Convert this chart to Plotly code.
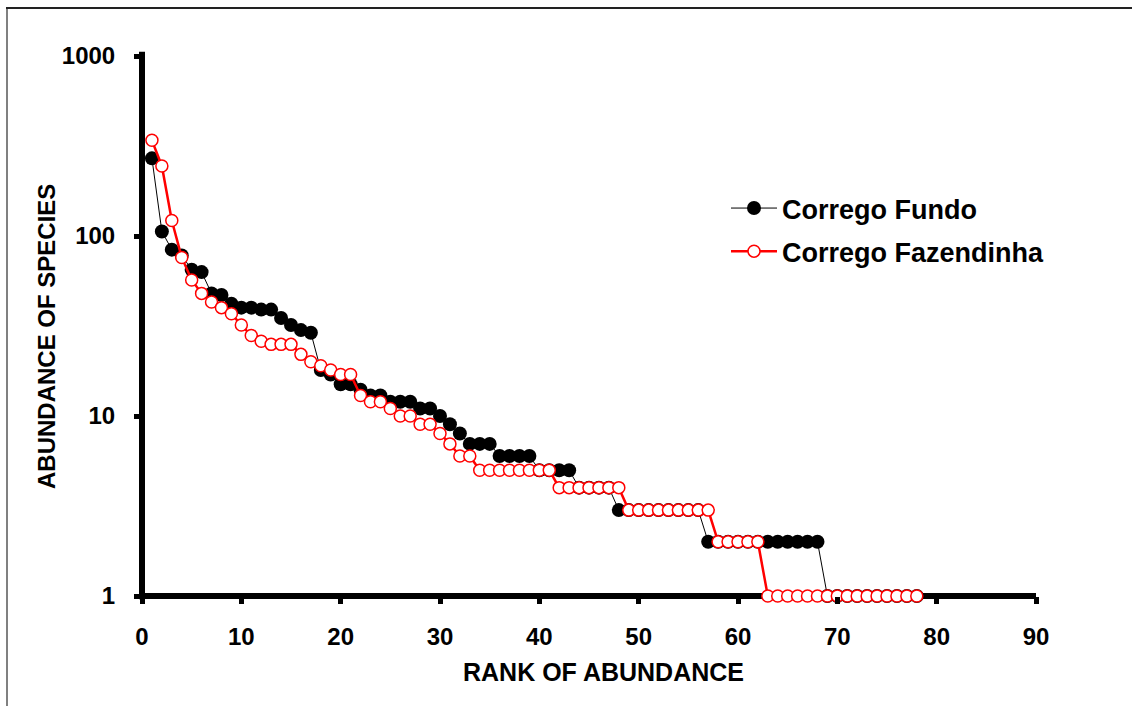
import plotly.graph_objects as go

rank = list(range(1, 79))

fundo = [270, 106, 84, 78, 65, 63, 48, 47, 42, 40,
         40, 39, 39, 35, 32, 30, 29, 18, 17, 15,
         15, 14, 13, 13, 12, 12, 12, 11, 11, 10,
         9, 8, 7, 7, 7, 6, 6, 6, 6, 5,
         5, 5, 5, 4, 4, 4, 4, 3, 3, 3,
         3, 3, 3, 3, 3, 3, 2, 2, 2, 2,
         2, 2, 2, 2, 2, 2, 2, 2, 1, 1,
         1, 1, 1, 1, 1, 1, 1, 1]

fazendinha = [340, 245, 122, 76, 57, 48, 43, 40, 37, 32,
              28, 26, 25, 25, 25, 22, 20, 19, 18, 17,
              17, 13, 12, 12, 11, 10, 10, 9, 9, 8,
              7, 6, 6, 5, 5, 5, 5, 5, 5, 5,
              5, 4, 4, 4, 4, 4, 4, 4, 3, 3,
              3, 3, 3, 3, 3, 3, 3, 2, 2, 2,
              2, 2, 1, 1, 1, 1, 1, 1, 1, 1,
              1, 1, 1, 1, 1, 1, 1, 1]

x_ticks = [0, 10, 20, 30, 40, 50, 60, 70, 80, 90]
y_ticks = [1, 10, 100, 1000]
y_ticktext = ["1", "10", "100", "1000"]

FONT = "Liberation Sans, Arial, sans-serif"

fig = go.Figure()
fig.add_trace(go.Scatter(
    x=rank, y=fundo, name="Corrego Fundo", mode="lines+markers",
    line=dict(color="black", width=1),
    marker=dict(symbol="circle", size=14, color="black"),
    legendgroup="a", cliponaxis=False,
))
fig.add_trace(go.Scatter(
    x=rank, y=fazendinha, name="Corrego Fazendinha", mode="lines+markers",
    line=dict(color="#ff0000", width=2.5),
    marker=dict(symbol="circle", size=12, color="white",
                line=dict(color="#ff0000", width=1.5)),
    legendgroup="b", cliponaxis=False,
))

L, R, T, B = 142, 96, 56, 110
W, H = 1132, 706
pw = W - L - R
ph = H - T - B


def px_to_paper_x(px):
    return (px - L) / pw


def px_to_paper_y(py):
    return (H - B - py) / ph


shapes = [
    # axis lines centred on x=0 and y=1
    dict(type="line", xref="paper", yref="paper", x0=0, x1=0,
         y0=-0.006, y1=1.008, line=dict(color="black", width=6), layer="below"),
    dict(type="line", xref="paper", yref="paper", x0=-0.003, x1=1.0,
         y0=0, y1=0, line=dict(color="black", width=6), layer="below"),
    # frame of the picture
    dict(type="line", xref="paper", yref="paper",
         x0=px_to_paper_x(7), x1=px_to_paper_x(7),
         y0=px_to_paper_y(8), y1=px_to_paper_y(720),
         line=dict(color="#808080", width=2)),
    dict(type="line", xref="paper", yref="paper",
         x0=px_to_paper_x(6), x1=px_to_paper_x(1140),
         y0=px_to_paper_y(8), y1=px_to_paper_y(8),
         line=dict(color="#222222", width=2)),
]

annotations = [
    dict(text="RANK OF ABUNDANCE", xref="paper", yref="paper",
         x=px_to_paper_x(603), y=px_to_paper_y(672),
         xanchor="center", yanchor="middle", showarrow=False,
         font=dict(family=FONT, size=25, color="black", weight="bold")),
    dict(text="ABUNDANCE OF SPECIES", xref="paper", yref="paper",
         x=px_to_paper_x(46), y=px_to_paper_y(337), textangle=-90,
         xanchor="center", yanchor="middle", showarrow=False,
         font=dict(family=FONT, size=24, color="black", weight="bold")),
]

fig.update_layout(
    width=W, height=H,
    margin=dict(l=L, r=R, t=T, b=B, pad=0),
    paper_bgcolor="white", plot_bgcolor="white",
    font=dict(family=FONT, color="black"),
    showlegend=True,
    legend=dict(x=px_to_paper_x(726), y=px_to_paper_y(184),
                xanchor="left", yanchor="top",
                font=dict(family=FONT, size=27, color="black", weight="bold"),
                bgcolor="rgba(0,0,0,0)", itemwidth=46, tracegroupgap=5),
    shapes=shapes,
    annotations=annotations,
)
fig.update_xaxes(
    range=[0, 90], tickmode="array", tickvals=x_ticks,
    showgrid=False, zeroline=False, showline=False,
    ticks="outside", ticklen=7, tickwidth=5, tickcolor="black",
    ticklabelstandoff=12,
    tickfont=dict(family=FONT, size=24, color="black", weight="bold"),
)
fig.update_yaxes(
    type="log", range=[0, 3], tickmode="array",
    tickvals=y_ticks, ticktext=y_ticktext,
    showgrid=False, zeroline=False, showline=False,
    ticks="outside", ticklen=7, tickwidth=5, tickcolor="black",
    ticklabelstandoff=14,
    tickfont=dict(family=FONT, size=24, color="black", weight="bold"),
)

fig.write_html("out.html")
